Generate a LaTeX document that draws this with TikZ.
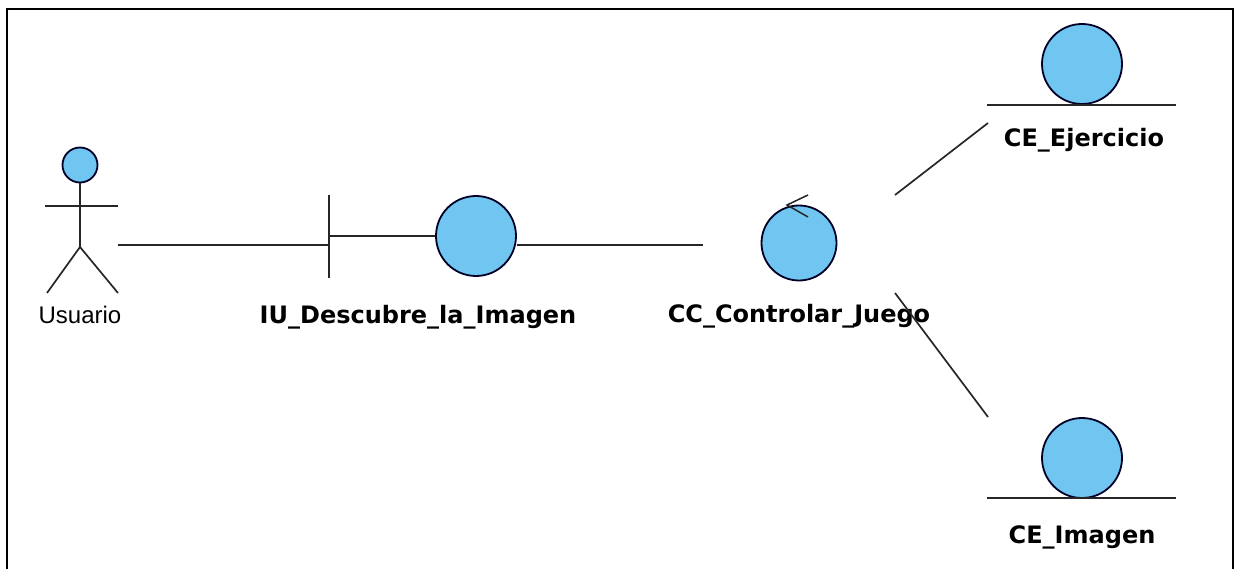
\documentclass[tikz,border=0pt]{standalone}
\usepackage{fontspec}
\setmainfont{Liberation Sans}
\newfontfamily\lblfont{DejaVu Sans}
\begin{document}
\begin{tikzpicture}[x=1pt,y=-1pt,
  obj/.style={circle,draw=black!85!blue,line width=1.8pt,fill=uml,inner sep=0pt},
  conn/.style={line width=1.7pt,draw=black!85},
  lbl/.style={font=\lblfont\bfseries\fontsize{24}{28}\selectfont,anchor=base,inner sep=0pt},
  actlbl/.style={font=\fontsize{24}{28}\selectfont,anchor=base,inner sep=0pt}]
\definecolor{uml}{RGB}{112,198,240}
\useasboundingbox (0,0) rectangle (1236,569);
\begin{scope}
\clip (0,0) rectangle (1236,569);
\draw[line width=2.4pt] (7,9) rectangle (1233,590);
\end{scope}
% actor
\node[obj,minimum size=35pt] (head) at (80,165) {};
\coordinate (hip) at (80,247);
\coordinate (armL) at (45,206);
\coordinate (armR) at (118,206);
\coordinate (legL) at (47,293);
\coordinate (legR) at (118,293);
\draw[conn] (head.south) -- (hip);
\draw[conn] (armL) -- (armR);
\draw[conn] (legL) -- (hip) -- (legR);
\node[actlbl] (usuario) at (80,323) {Usuario};
\coordinate (actR) at (118,245);
% boundary
\coordinate (barT) at (329,195);
\coordinate (barB) at (329,278);
\coordinate (barM) at (329,236);
\node[obj,minimum size=80pt] (iu) at (476,236) {};
\draw[conn] (barT) -- (barB);
\draw[conn] (barM) -- (iu.west);
\node[lbl] (iulbl) at (418,323) {IU\_Descubre\_la\_Imagen};
% control
\node[obj,minimum size=75pt] (cc) at (799,243) {};
\coordinate (ccTip) at (787,205);
\coordinate (ccA) at (808,195);
\coordinate (ccB) at (808,217);
\draw[conn,line width=1.5pt] (ccA) -- (ccTip) -- (ccB);
\node[lbl] (cclbl) at (799,322) {CC\_Controlar\_Juego};
% entities
\node[obj,minimum size=80pt] (ej) at (1082,64) {};
\coordinate (ejL) at (987,105);
\coordinate (ejR) at (1176,105);
\draw[conn] (ejL) -- (ejR);
\node[lbl] (ejlbl) at (1084,147) {CE\_Ejercicio};
\node[obj,minimum size=80pt] (im) at (1082,458) {};
\coordinate (imL) at (987,498);
\coordinate (imR) at (1176,498);
\draw[conn] (imL) -- (imR);
\node[lbl] (imlbl) at (1082,543) {CE\_Imagen};
% connectors
\coordinate (ccEnd) at (703,245);
\draw[conn] (actR) -- (barM |- actR);
\draw[conn] (iu.east |- ccEnd) -- (ccEnd);
\coordinate (c1a) at (895,195);
\coordinate (c1b) at (988,123);
\draw[conn] (c1a) -- (c1b);
\coordinate (c2a) at (895,293);
\coordinate (c2b) at (988,417);
\draw[conn] (c2a) -- (c2b);
\end{tikzpicture}
\end{document}
